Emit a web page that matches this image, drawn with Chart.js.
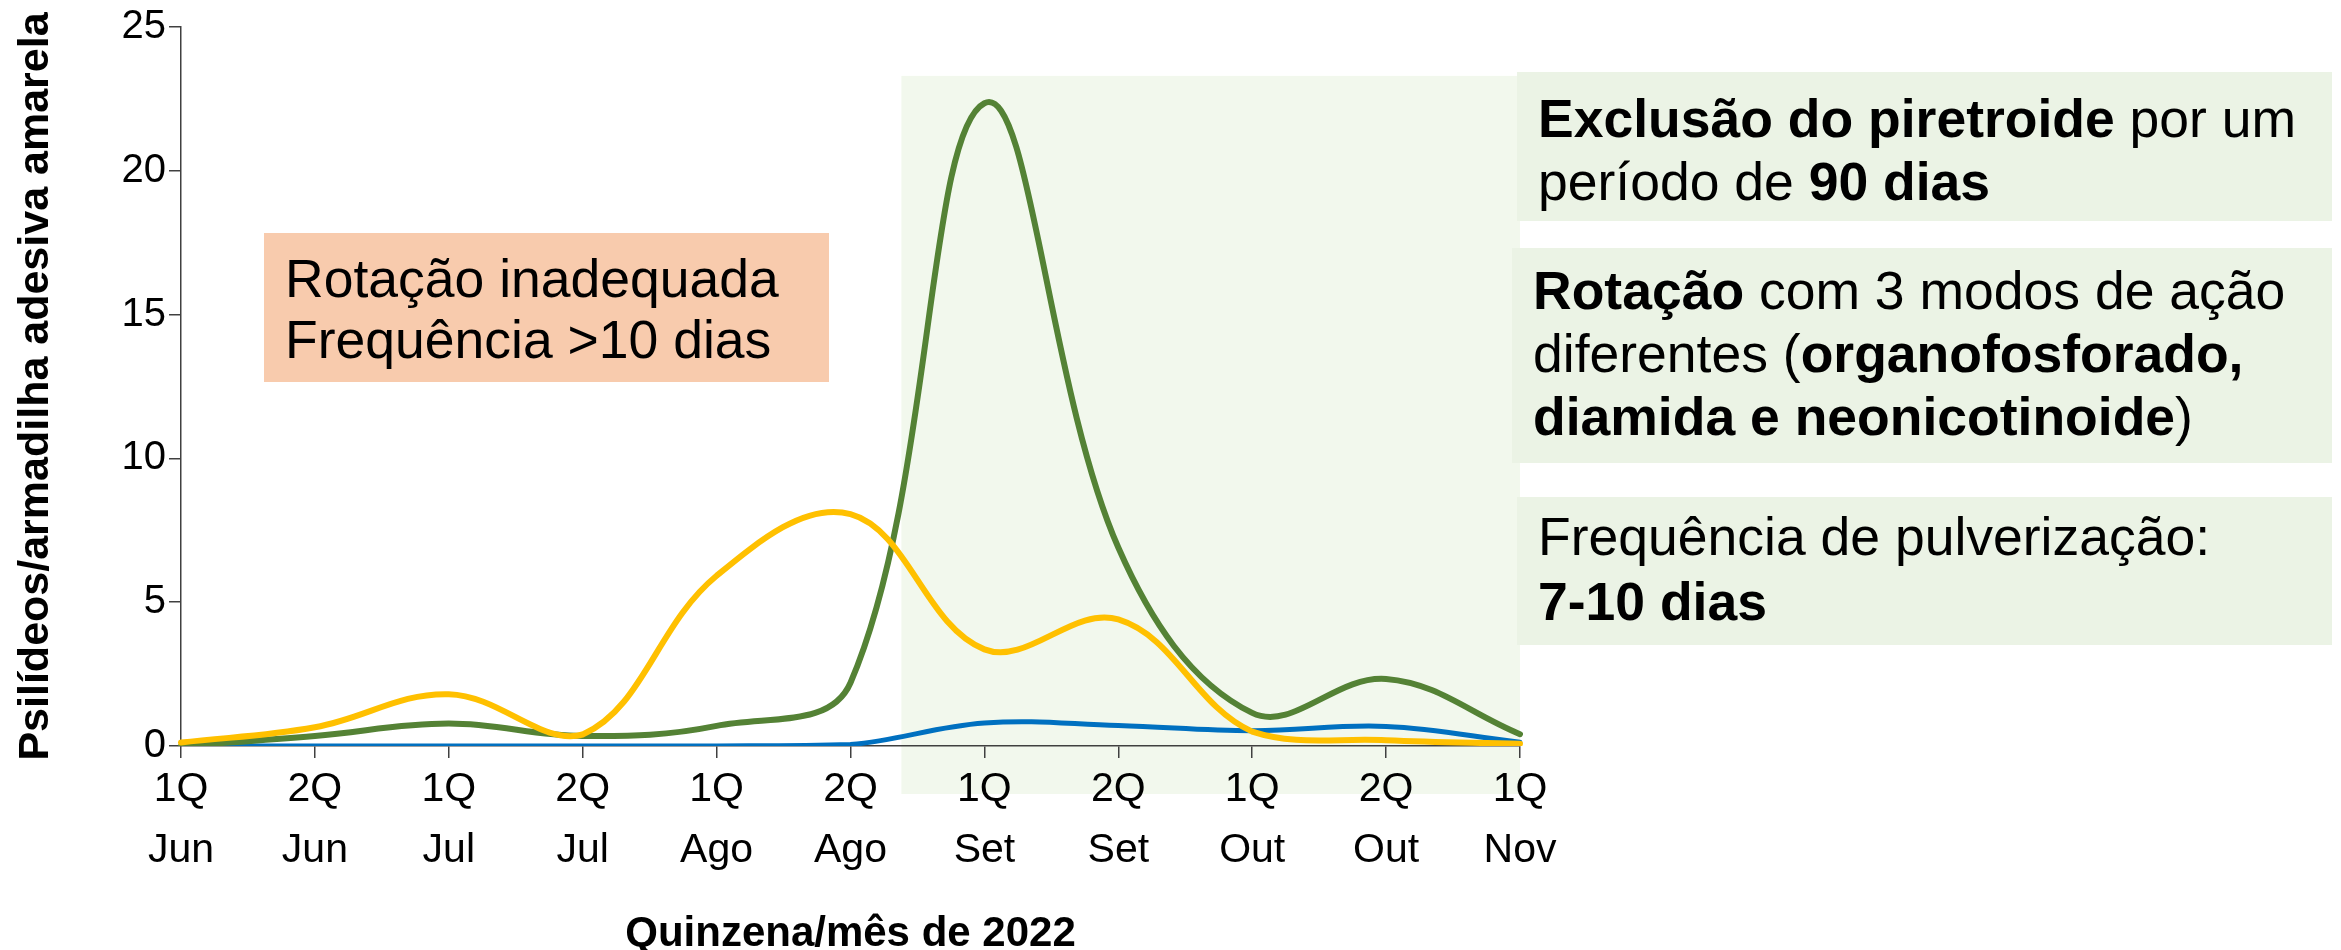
<!DOCTYPE html>
<html>
<head>
<meta charset="utf-8">
<script src="https://cdn.jsdelivr.net/npm/chart.js@4"></script>
<style>
  html, body { margin: 0; padding: 0; background: #ffffff; }
  #wrap { width: 2341px; height: 950px; position: relative; }
</style>
</head>
<body>
<div id="wrap"><canvas id="c" width="2341" height="950"></canvas></div>
<script>
// ---- data ----
const categories = [
  ['1Q','Jun'],['2Q','Jun'],['1Q','Jul'],['2Q','Jul'],['1Q','Ago'],['2Q','Ago'],
  ['1Q','Set'],['2Q','Set'],['1Q','Out'],['2Q','Out'],['1Q','Nov']
];
const greenValues  = [0.0, 0.35, 0.78, 0.35, 0.7, 2.2, 22.35, 6.9, 1.15, 2.33, 0.41];
const yellowValues = [0.12, 0.65, 1.8, 0.4, 5.92, 8.06, 3.36, 4.4, 0.5, 0.2, 0.08];
const blueValues   = [0.0, 0.0, 0.0, 0.0, 0.0, 0.05, 0.8, 0.71, 0.53, 0.68, 0.13];
const yTickValues  = [0, 5, 10, 15, 20, 25];

const yAxisTitle = 'Psilídeos/armadilha adesiva amarela';
const xAxisTitle = 'Quinzena/mês de 2022';

const leftNote = [
  [['Rotação inadequada', false]],
  [['Frequência >10 dias', false]]
];
const noteBox1 = [
  [['Exclusão do piretroide', true], [' por um', false]],
  [['período de ', false], ['90 dias', true]]
];
const noteBox2 = [
  [['Rotação', true], [' com 3 modos de ação', false]],
  [['diferentes (', false], ['organofosforado,', true]],
  [['diamida e neonicotinoide', true], [')', false]]
];
const noteBox3 = [
  [['Frequência de pulverização:', false]],
  [['7-10 dias', true]]
];

// ---- styling ----
const FONT = '"Liberation Sans", Arial, Helvetica, sans-serif';
const AXIS_COLOR = '#404040';

function drawRich(ctx, x, y, lines, size, lineGap) {
  ctx.save();
  ctx.fillStyle = '#000000';
  ctx.textBaseline = 'alphabetic';
  ctx.textAlign = 'left';
  lines.forEach((segs, i) => {
    let cx = x;
    segs.forEach(([t, bold]) => {
      ctx.font = (bold ? 'bold ' : '') + size + 'px ' + FONT;
      ctx.fillText(t, cx, y + i * lineGap);
      cx += ctx.measureText(t).width;
    });
  });
  ctx.restore();
}

const decorPlugin = {
  id: 'decor',
  beforeDraw(chart) {
    const {ctx, scales: {x, y}} = chart;
    ctx.save();
    // light green period shading
    const sx0 = x.getPixelForValue(5.38);
    const sx1 = x.getPixelForValue(10);
    const sy0 = y.getPixelForValue(23.3);
    const sy1 = y.getPixelForValue(0) + 48;
    ctx.fillStyle = '#f2f8ed';
    ctx.fillRect(sx0, sy0, sx1 - sx0, sy1 - sy0);
    // right note boxes
    ctx.fillStyle = '#ebf3e5';
    ctx.fillRect(1517, 72, 815, 149);
    ctx.fillRect(1512, 248, 820, 215);
    ctx.fillRect(1517, 497, 815, 148);
    // orange note box
    ctx.fillStyle = '#f8cbad';
    ctx.fillRect(264, 233, 565, 149);
    ctx.restore();
  },
  afterDraw(chart) {
    const ctx = chart.ctx;
    drawRich(ctx, 285, 297, leftNote, 53.5, 61);
    drawRich(ctx, 1538, 137, noteBox1, 53.5, 63);
    drawRich(ctx, 1533, 309, noteBox2, 53.5, 63);
    drawRich(ctx, 1538, 555, noteBox3, 53.5, 65);
  }
};

new Chart(document.getElementById('c'), {
  type: 'line',
  data: {
    labels: categories,
    datasets: [
      { label: 'amarelo', data: yellowValues, borderColor: '#ffc000', borderWidth: 6 },
      { label: 'verde', data: greenValues, borderColor: '#548235', borderWidth: 6 },
      { label: 'azul', data: blueValues, borderColor: '#0070c0', borderWidth: 5 }
    ]
  },
  options: {
    responsive: false,
    animation: false,
    devicePixelRatio: 1,
    layout: { padding: { left: 0, top: 27, right: 821, bottom: 0 } },
    elements: {
      point: { radius: 0, hoverRadius: 0 },
      line: { tension: 0.38, cubicInterpolationMode: 'default', borderCapStyle: 'round', borderJoinStyle: 'round' }
    },
    plugins: { legend: { display: false }, tooltip: { enabled: false } },
    scales: {
      x: {
        offset: false,
        grid: { display: true, drawOnChartArea: false, drawTicks: true, tickLength: 12, color: AXIS_COLOR, lineWidth: 1.5 },
        border: { display: true, color: AXIS_COLOR, width: 1.5 },
        ticks: { color: '#000000', padding: 2, maxRotation: 0, autoSkip: false,
                 font: { family: FONT, size: 41, lineHeight: 1.47 } },
        title: { display: true, text: xAxisTitle, color: '#000000', padding: { top: 0, bottom: 0 },
                 font: { family: FONT, size: 42, weight: 'bold', lineHeight: 0.75 } },
        afterFit(scale) { scale.height = 204; }
      },
      y: {
        min: yTickValues[0],
        max: yTickValues[yTickValues.length - 1],
        afterBuildTicks(scale) { scale.ticks = yTickValues.map(v => ({ value: v })); },
        grid: { display: true, drawOnChartArea: false, drawTicks: true, tickLength: 12, color: AXIS_COLOR, lineWidth: 1.5 },
        border: { display: true, color: AXIS_COLOR, width: 1.5 },
        ticks: { color: '#000000', padding: 3, font: { family: FONT, size: 40 } },
        title: { display: true, text: yAxisTitle, color: '#000000', padding: { top: 10, bottom: 0 },
                 font: { family: FONT, size: 43, weight: 'bold', lineHeight: 1.2 } },
        afterFit(scale) { scale.width = 181; }
      }
    }
  },
  plugins: [decorPlugin]
});
</script>
</body>
</html>
